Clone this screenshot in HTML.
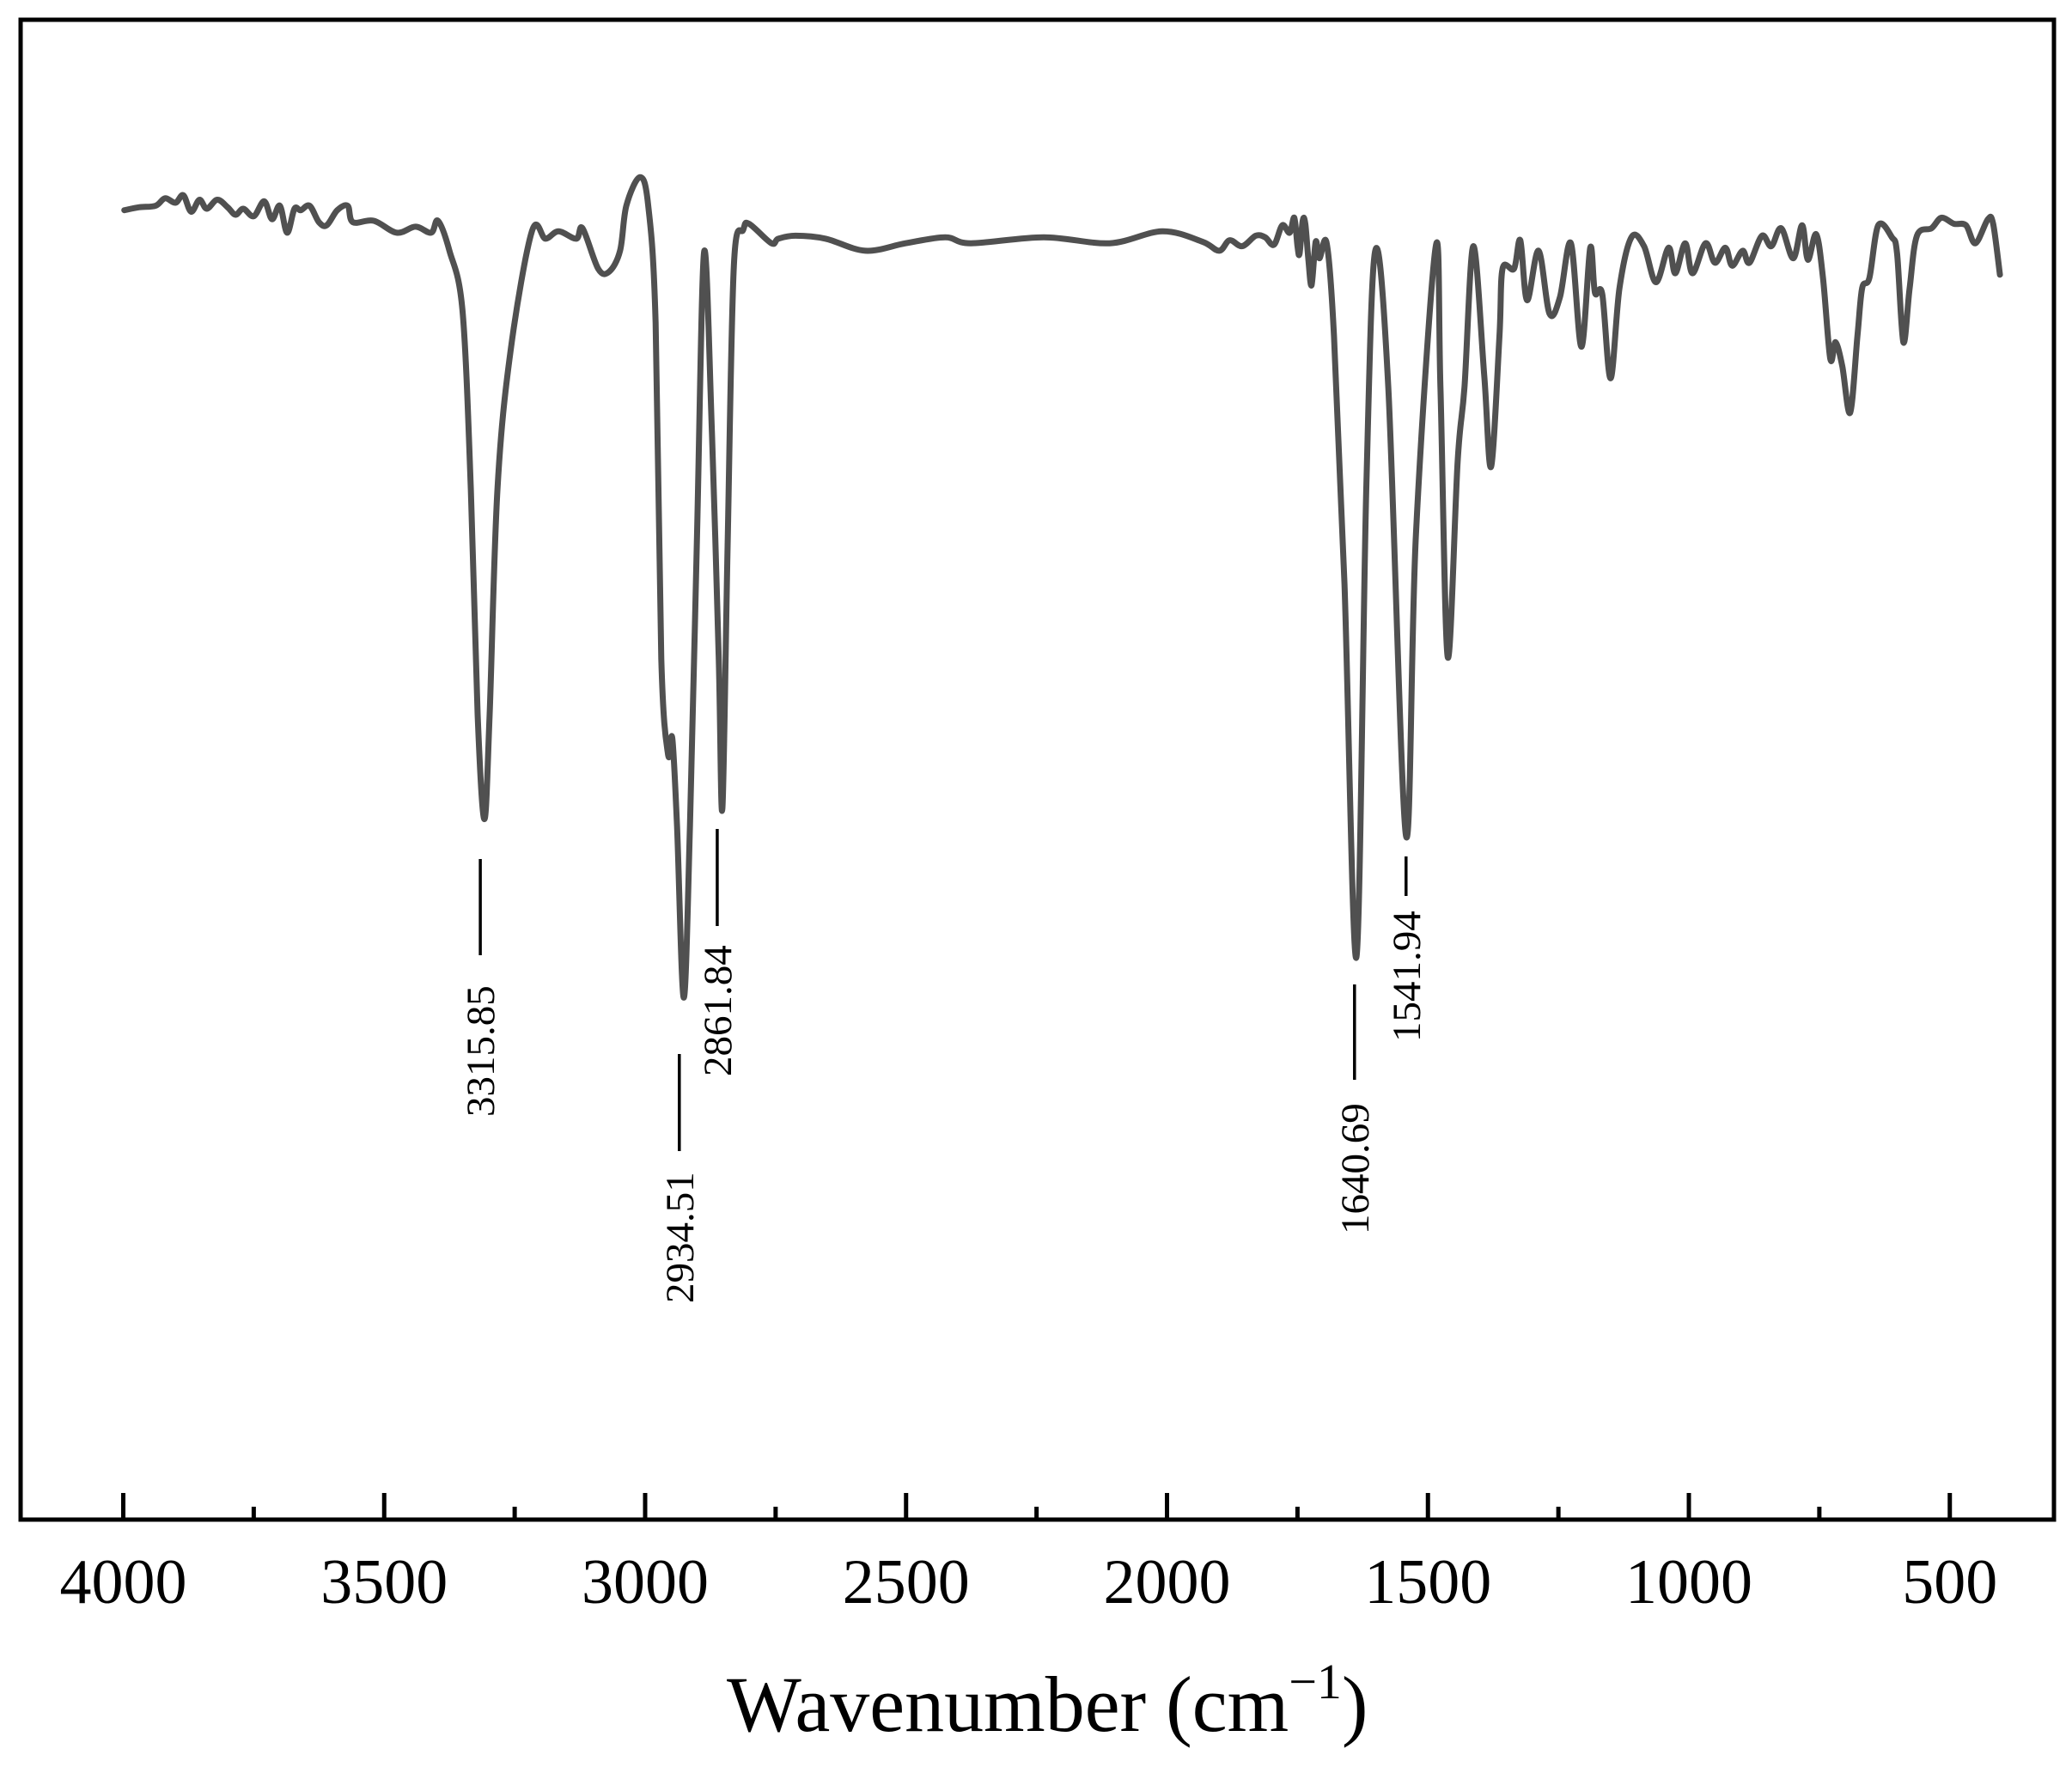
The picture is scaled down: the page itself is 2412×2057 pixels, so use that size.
<!DOCTYPE html>
<html>
<head>
<meta charset="utf-8">
<style>
  html,body{margin:0;padding:0;background:#fff;}
  svg{display:block;}
  text{font-family:"Liberation Serif","Times New Roman",serif;fill:#000;}
</style>
</head>
<body>
<svg id="chart" width="2412" height="2057" viewBox="0 0 2412 2057" xmlns="http://www.w3.org/2000/svg">
  <rect x="0" y="0" width="2412" height="2057" fill="#fff"/>
  <g id="ticks"></g>
  <g id="ticklabels"></g>
  <path id="spectrum" fill="none" stroke="#505050" stroke-width="7" stroke-linejoin="round" stroke-linecap="round"/>
  <g id="annotations"></g>
  <rect x="24" y="23" width="2367" height="1746" fill="none" stroke="#000" stroke-width="5"/>
  <text x="846" y="2015" font-size="92">Wavenumber (cm<tspan font-size="58" dy="-38">−1</tspan><tspan dy="38">)</tspan></text>
</svg>
<script>
const wavenumbers = [3998,3970,3938,3920,3900,3885,3870,3854,3840,3820,3800,3785,3770,3750,3730,3715,3700,3686,3672,3660,3643,3625,3610,3590,3570,3560,3520,3476,3440,3410,3397,3375,3350,3334,3321,3308,3298,3283,3258,3217,3191,3166,3132,3120,3090,3069,3048,3036,3010,2994,2980,2969,2956,2948,2939,2926,2914,2901,2887,2872,2859,2852,2842,2830,2812,2801,2758,2745,2712,2654,2578,2501,2425,2376,2236,2110,2009,1932,1900,1880,1856,1830,1812,1795,1779,1765,1756,1750,1746,1740,1735,1729,1723,1715,1708,1694,1680,1660,1637,1618,1601,1576,1542,1523,1485,1476,1462,1443,1430,1413,1392,1379,1363,1357,1335,1323,1310,1288,1267,1247,1226,1206,1189,1180,1166,1150,1133,1110,1086,1063,1039,1026,1007,993,968,950,930,917,897,884,860,842,823,800,783,772,756,743,729,719,706,691,677,668,654,637,611,601,589,577,563,535,516,492,469,451,427,417,404];
const transmittance = [87.3,87.5,87.6,88.1,87.8,88.3,87.2,88.0,87.4,88.0,87.5,87.0,87.4,86.9,87.9,86.7,87.6,85.8,87.4,87.3,87.6,86.5,86.3,87.3,87.6,86.5,86.6,85.8,86.2,85.8,86.6,84.6,80.6,68.7,53.7,46.7,53.7,68.7,77.9,85.9,85.4,85.9,85.4,86.1,83.4,83.2,84.6,87.6,89.5,87.6,79.8,57.4,51.0,52.1,46.3,34.8,46.3,64.9,84.5,72.4,57.4,47.4,64.9,83.6,86.0,86.4,85.1,85.4,85.6,85.4,84.6,85.1,85.5,85.1,85.5,85.1,85.9,85.2,84.6,85.3,84.9,85.6,85.5,85.0,86.3,85.8,86.8,84.9,84.4,86.6,86.4,84.0,82.3,85.2,84.1,85.1,78.9,62.4,37.5,69.0,84.6,75.5,45.6,65.7,84.9,75.5,57.5,70.6,75.5,84.9,76.2,70.2,78.9,83.4,83.4,85.3,81.3,84.6,80.4,81.5,85.1,78.2,84.8,81.8,81.7,76.1,82.1,85.5,84.9,82.5,84.8,83.1,85.1,83.1,85.1,83.8,84.8,83.6,84.6,83.8,85.6,84.9,86.1,84.1,86.3,84.0,85.7,82.8,77.4,78.5,76.9,73.8,78.9,82.1,82.8,86.3,85.5,84.4,78.5,82.1,85.6,86.1,86.8,86.4,86.3,85.1,86.7,86.4,83.0];
const majorTicks = [4000,3500,3000,2500,2000,1500,1000,500];
const minorTicks = [3750,3250,2750,2250,1750,1250,750];
const peakLabels = ["3315.85","2934.51","2861.84","1640.69","1541.94"];
const peakWavenumbers = [3315.85,2934.51,2861.84,1640.69,1541.94];
const peakLineTop = [1000,1227,965,1146,997];
const peakLineBottom = [1112,1340,1078,1257,1043];
const peakTextBottom = [1300,1517,1253,1437,1213];

const NS = "http://www.w3.org/2000/svg";
function xScale(wn){ return 143.5 + (4000 - wn) * 0.6075; }
function yScale(t){ return 1769 - t * 17.46; }

const pts = wavenumbers.map((w, i) => [xScale(w), yScale(transmittance[i])]);
let d = "M" + pts[0][0].toFixed(1) + "," + pts[0][1].toFixed(1);
for (let i = 0; i < pts.length - 1; i++) {
  const p0 = pts[Math.max(0, i - 1)], p1 = pts[i], p2 = pts[i + 1], p3 = pts[Math.min(pts.length - 1, i + 2)];
  const c1x = p1[0] + (p2[0] - p0[0]) / 6, c1y = p1[1] + (p2[1] - p0[1]) / 6;
  const c2x = p2[0] - (p3[0] - p1[0]) / 6, c2y = p2[1] - (p3[1] - p1[1]) / 6;
  d += "C" + c1x.toFixed(1) + "," + c1y.toFixed(1) + " " + c2x.toFixed(1) + "," + c2y.toFixed(1) + " " + p2[0].toFixed(1) + "," + p2[1].toFixed(1);
}
document.getElementById("spectrum").setAttribute("d", d);

const tg = document.getElementById("ticks");
const lg = document.getElementById("ticklabels");
majorTicks.forEach(v => {
  const l = document.createElementNS(NS, "line");
  l.setAttribute("x1", xScale(v)); l.setAttribute("x2", xScale(v));
  l.setAttribute("y1", 1769); l.setAttribute("y2", 1738);
  l.setAttribute("stroke", "#000"); l.setAttribute("stroke-width", "5");
  
  
  tg.appendChild(l);
  const t = document.createElementNS(NS, "text");
  t.setAttribute("x", xScale(v)); t.setAttribute("y", 1866);
  t.setAttribute("font-size", "74"); t.setAttribute("text-anchor", "middle");
  t.textContent = v;
  
  
  lg.appendChild(t);
});
minorTicks.forEach(v => {
  const l = document.createElementNS(NS, "line");
  l.setAttribute("x1", xScale(v)); l.setAttribute("x2", xScale(v));
  l.setAttribute("y1", 1769); l.setAttribute("y2", 1754);
  l.setAttribute("stroke", "#000"); l.setAttribute("stroke-width", "5");
  
  
  tg.appendChild(l);
});

const ag = document.getElementById("annotations");
peakLabels.forEach((lab, i) => {
  const x = xScale(peakWavenumbers[i]);
  const l = document.createElementNS(NS, "line");
  l.setAttribute("x1", x); l.setAttribute("x2", x);
  l.setAttribute("y1", peakLineTop[i]); l.setAttribute("y2", peakLineBottom[i]);
  l.setAttribute("stroke", "#000"); l.setAttribute("stroke-width", "3.5");
  
  
  ag.appendChild(l);
  const t = document.createElementNS(NS, "text");
  const tx = x + 16, ty = peakTextBottom[i];
  t.setAttribute("x", tx); t.setAttribute("y", ty);
  t.setAttribute("font-size", "47");
  t.setAttribute("transform", "rotate(-90 " + tx + " " + ty + ")");
  t.textContent = lab;
  
  
  ag.appendChild(t);
});
</script>
</body>
</html>
